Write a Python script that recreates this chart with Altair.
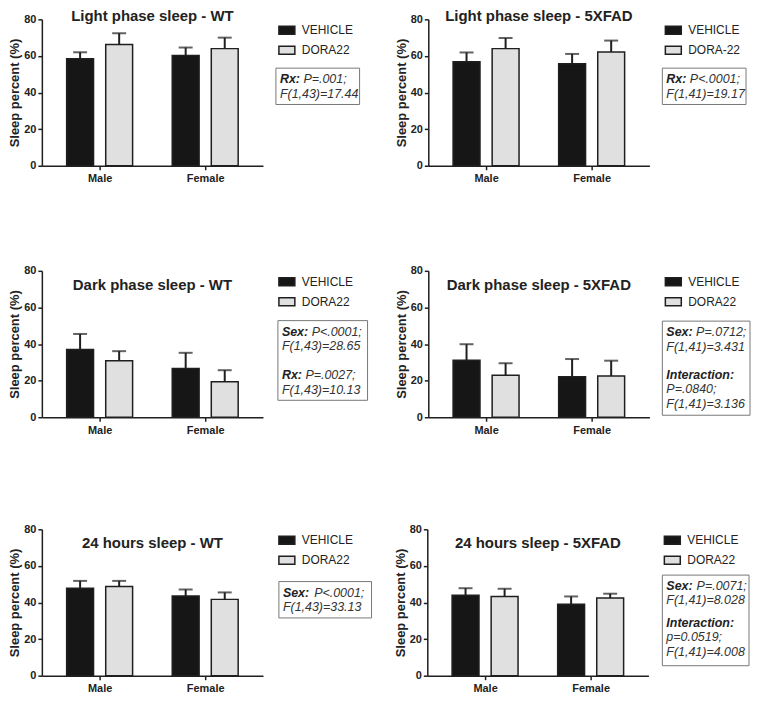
import altair as alt
import pandas as pd

FONT = "Liberation Sans"
INK = "#1f1f1f"

sexes = ["Male", "Female"]

titles = [
    "Light phase sleep - WT",
    "Light phase sleep - 5XFAD",
    "Dark phase sleep - WT",
    "Dark phase sleep - 5XFAD",
    "24 hours sleep - WT",
    "24 hours sleep - 5XFAD",
]

treatments = [
    ["VEHICLE", "DORA22"],
    ["VEHICLE", "DORA-22"],
    ["VEHICLE", "DORA22"],
    ["VEHICLE", "DORA22"],
    ["VEHICLE", "DORA22"],
    ["VEHICLE", "DORA22"],
]

# order: Male-VEHICLE, Male-DORA, Female-VEHICLE, Female-DORA
light_wt_mean = [58.4, 66.2, 60.2, 64.0]
light_wt_sem = [3.6, 6.2, 4.4, 6.0]
light_5x_mean = [56.8, 64.0, 55.7, 62.2]
light_5x_sem = [5.1, 5.8, 5.4, 6.2]
dark_wt_mean = [37.0, 30.9, 26.6, 19.4]
dark_wt_sem = [8.5, 5.2, 8.6, 6.3]
dark_5x_mean = [31.1, 23.0, 22.1, 22.5]
dark_5x_sem = [8.8, 6.5, 9.7, 8.4]
day_wt_mean = [47.8, 48.7, 43.5, 41.7]
day_wt_sem = [4.0, 3.1, 3.6, 3.8]
day_5x_mean = [44.0, 43.3, 39.0, 42.4]
day_5x_sem = [3.8, 4.2, 4.3, 2.4]

means = [light_wt_mean, light_5x_mean, dark_wt_mean, dark_5x_mean, day_wt_mean, day_5x_mean]
sems = [light_wt_sem, light_5x_sem, dark_wt_sem, dark_5x_sem, day_wt_sem, day_5x_sem]

y_ticks = [0, 20, 40, 60, 80]

# statistics boxes: (bold part, italic part); None = blank line
stats = [
    [("Rx:", "P=.001;"), ("", "F(1,43)=17.44")],
    [("Rx:", "P<.0001;"), ("", "F(1,41)=19.17")],
    [("Sex:", "P<.0001;"), ("", "F(1,43)=28.65"), None, ("Rx:", "P=.0027;"), ("", "F(1,43)=10.13")],
    [("Sex:", "P=.0712;"), ("", "F(1,41)=3.431"), None, ("Interaction:", ""), ("", "P=.0840;"), ("", "F(1,41)=3.136")],
    [("Sex:", "P<.0001;"), ("", "F(1,43)=33.13")],
    [("Sex:", "P=.0071;"), ("", "F(1,41)=8.028"), None, ("Interaction:", ""), ("", "p=0.0519;"), ("", "F(1,41)=4.008")],
]

# ---- layout / style (pixels) ----
PW, PH = 222, 147
BAR_W = 27
GROUP_SHIFT = 0.185          # bar centre offset from category centre (category units)
title_y = [-3, -3, 14, 14, 14, 14]
# box: left, right, top, blank height, extra gap after bold part, bottom pad
box_style = [
    (235, 319, 49, 14.5, 3.5, 11),
    (235, 319, 49, 14.5, 3.5, 11),
    (237, 327, 50, 15.0, 3.5, 10.5),
    (235, 323, 50.5, 14.0, 3.5, 11.5),
    (238, 331, 52.5, 14.5, 5.0, 11),
    (236, 323, 46, 8.0, 4.0, 14),
]
row_spacing = [34, 26, 21]
vspace = [81.5, 88.5]
bold_w = {"Rx:": 20.1, "Sex:": 26.4, "Interaction:": 70}
LINE = 14.5
STATS_FS = 12.5

fills = ["#161616", "#e0e0e0"]


def make_panel(i):
    tr = treatments[i]
    df = pd.DataFrame({
        "Sex": [s for s in sexes for _ in tr],
        "Treatment": tr * 2,
        "Mean": means[i],
        "SEM": sems[i],
    })
    df["Upper"] = df["Mean"] + df["SEM"]
    df["Pos"] = [sexes.index(s) + (GROUP_SHIFT if t != tr[0] else -GROUP_SHIFT)
                 for s, t in zip(df["Sex"], df["Treatment"])]
    base = alt.Chart(df)

    x = alt.X("Pos:Q", title=None,
              scale=alt.Scale(domain=[-0.5, len(sexes) - 0.5], nice=False, zero=False),
              axis=alt.Axis(values=list(range(len(sexes))),
                            labelExpr="datum.value == 0 ? 'Male' : 'Female'",
                            labelAngle=0, labelPadding=3, tickSize=4))
    yscale = alt.Scale(domain=[0, 80], nice=False)
    yaxis = alt.Axis(values=y_ticks, tickSize=4, labelPadding=2, titlePadding=2)

    def Y(field):
        return alt.Y(field, type="quantitative", title="Sleep percent (%)",
                     scale=yscale, axis=yaxis)

    bars = base.mark_bar(orient="vertical", width=BAR_W, stroke=INK, strokeWidth=1.5).encode(
        x=x, y=Y("Mean"),
        color=alt.Color("Treatment:N", sort=tr,
                        scale=alt.Scale(domain=tr, range=fills),
                        legend=alt.Legend(
                            title=None, orient="none", legendX=237, legendY=2,
                            direction="vertical",
                            symbolType="M-1,-0.5H1V0.5H-1Z", symbolSize=256,
                            symbolStrokeColor=INK, symbolStrokeWidth=1.5,
                            labelFont=FONT, labelFontSize=12, labelColor="#222",
                            labelOffset=6, rowPadding=4, padding=0)),
    )
    err = base.mark_rule(color=INK, strokeWidth=2).encode(
        x=x, y=Y("Mean"), y2="Upper:Q")
    cap = base.mark_tick(orient="horizontal", color=INK, thickness=2, size=14).encode(
        x=x, y=Y("Upper"))

    ann = alt.Chart(alt.Data(values=[{}]))
    layers = [err, bars, cap]
    layers.append(ann.mark_text(text=titles[i], font=FONT, fontSize=15, fontWeight="bold",
                                color="#222", align="center", baseline="middle").encode(
        x=alt.value(PW / 2), y=alt.value(title_y[i])))

    left, right, top, blank, gap, bpad = box_style[i]
    yy = top + 11
    line_ys = []
    for ln in stats[i]:
        if ln is None:
            yy += blank
            continue
        line_ys.append((ln, yy))
        yy += LINE
    bottom = line_ys[-1][1] + bpad
    layers.insert(0, ann.mark_rect(fill="white", stroke="#777", strokeWidth=1).encode(
        x=alt.value(left), x2=alt.value(right), y=alt.value(top), y2=alt.value(bottom)))
    tx = left + 4
    for (b, rest), ly in line_ys:
        if b:
            layers.append(ann.mark_text(text=b, font=FONT, fontSize=STATS_FS, fontWeight="bold",
                                        fontStyle="italic", color="#222", align="left",
                                        baseline="middle").encode(x=alt.value(tx), y=alt.value(ly)))
        if rest:
            off = bold_w.get(b, 0) + (gap if b else 0)
            layers.append(ann.mark_text(text=rest, font=FONT, fontSize=STATS_FS,
                                        fontStyle="italic", color="#333", align="left",
                                        baseline="middle").encode(x=alt.value(tx + off), y=alt.value(ly)))
    return alt.layer(*layers).properties(width=PW, height=PH)


panels = [make_panel(i) for i in range(6)]
rows = [
    alt.hconcat(panels[2 * r], panels[2 * r + 1], spacing=row_spacing[r])
    .resolve_scale(color="independent").resolve_legend(color="independent")
    for r in range(3)
]

lower = alt.vconcat(rows[1], rows[2], spacing=vspace[1]).resolve_scale(
    color="independent").resolve_legend(color="independent")

chart = alt.vconcat(rows[0], lower, spacing=vspace[0]).resolve_scale(
    color="independent"
).resolve_legend(color="independent").properties(padding=0).configure_view(
    stroke=None
).configure_axis(
    grid=False, domainColor=INK, domainWidth=1.5, tickColor=INK, tickWidth=1.5,
    labelFont=FONT, labelFontWeight="bold", labelFontSize=11, labelColor="#222",
    titleFont=FONT, titleFontWeight="bold", titleFontSize=13, titleColor="#222",
)

chart.save("out.html", embed_options={"renderer": "svg", "actions": False})
